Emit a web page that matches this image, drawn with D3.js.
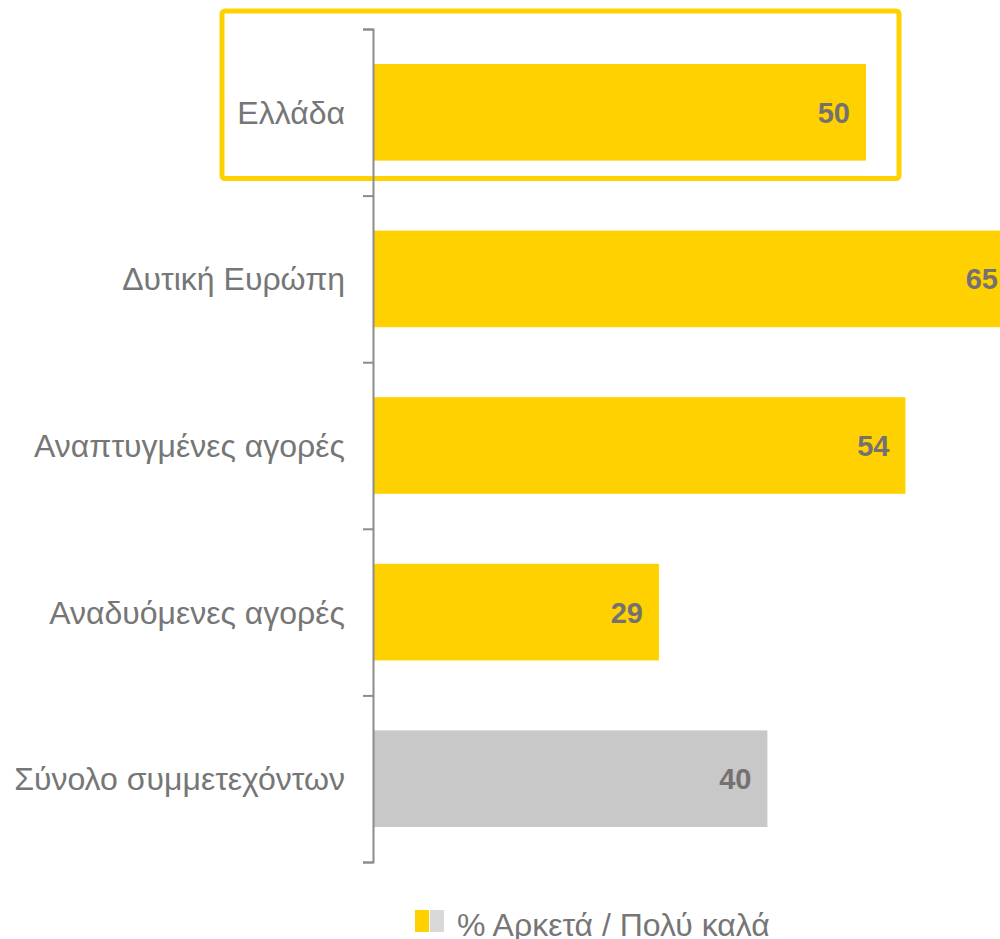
<!DOCTYPE html>
<html>
<head>
<meta charset="utf-8">
<script src="https://cdn.jsdelivr.net/npm/d3@7"></script>
<style>
  html, body { margin: 0; padding: 0; background: #fff; }
  svg { display: block; font-family: "Liberation Sans", Arial, sans-serif; }
</style>
</head>
<body>
<svg id="chart"></svg>
<script>
const categories = ['Ελλάδα', 'Δυτική Ευρώπη', 'Αναπτυγμένες αγορές', 'Αναδυόμενες αγορές', 'Σύνολο συμμετεχόντων'];
const values = [50, 65, 54, 29, 40];
const barColors = ['#FFD100', '#FFD100', '#FFD100', '#FFD100', '#C8C8C8'];
const legendLabel = '% Αρκετά / Πολύ καλά';
const highlighted = 'Ελλάδα';

const W = 1000, H = 939;
const svg = d3.select('#chart')
  .attr('width', W)
  .attr('height', H)
  .attr('viewBox', `0 0 ${W} ${H}`);

// plot area
const x0 = 373, yTop = 29, yBottom = 862;

const x = d3.scaleLinear()
  .domain([0, 50])
  .range([x0, 866]);

const y = d3.scaleBand()
  .domain(categories)
  .range([yTop, yBottom])
  .paddingInner(0.42)
  .paddingOuter(0.21);

// boundary ticks between categories
const yEdge = d3.scaleLinear()
  .domain([0, categories.length])
  .range([yTop, yBottom]);

// highlight frame around Greece
svg.append('rect')
  .attr('x', 222)
  .attr('y', y(highlighted) - 53)
  .attr('width', 677)
  .attr('height', y.bandwidth() + 71)
  .attr('rx', 3)
  .attr('fill', 'none')
  .attr('stroke', '#FFD100')
  .attr('stroke-width', 5);

// bars
svg.selectAll('.bar')
  .data(categories)
  .join('rect')
    .attr('class', 'bar')
    .attr('x', x(0))
    .attr('y', d => y(d))
    .attr('width', (d, i) => x(values[i]) - x(0))
    .attr('height', y.bandwidth())
    .attr('fill', (d, i) => barColors[i]);

// value labels
svg.selectAll('.val')
  .data(categories)
  .join('text')
    .attr('class', 'val')
    .attr('x', (d, i) => x(values[i]) - 16)
    .attr('y', d => y(d) + y.bandwidth() / 2)
    .attr('dy', '0.36em')
    .attr('text-anchor', 'end')
    .attr('fill', '#767171')
    .style('font-size', '29px')
    .style('font-weight', 'bold')
    .text((d, i) => values[i]);

// axis
const axis = svg.append('g')
  .attr('transform', `translate(${x0},0)`)
  .call(d3.axisLeft(yEdge).ticks(categories.length).tickSize(10).tickSizeOuter(10).tickFormat(''));
axis.selectAll('path, line')
  .attr('stroke', '#8C8C8C')
  .attr('stroke-width', 2);

// category labels
svg.selectAll('.cat')
  .data(categories)
  .join('text')
    .attr('class', 'cat')
    .attr('x', 345)
    .attr('y', d => y(d) + y.bandwidth() / 2)
    .attr('dy', '0.36em')
    .attr('text-anchor', 'end')
    .attr('fill', '#767676')
    .style('font-size', '32px')
    .text(d => d);

// legend
const lg = svg.append('g').attr('transform', 'translate(415,910)');
lg.append('rect').attr('width', 14).attr('height', 22).attr('fill', '#FFD100');
lg.append('rect').attr('x', 15).attr('width', 14).attr('height', 22).attr('fill', '#D9D9D9');
lg.append('text')
  .attr('x', 42)
  .attr('y', 14)
  .attr('dy', '0.36em')
  .attr('fill', '#767676')
  .style('font-size', '32px')
  .text(legendLabel);
</script>
</body>
</html>
